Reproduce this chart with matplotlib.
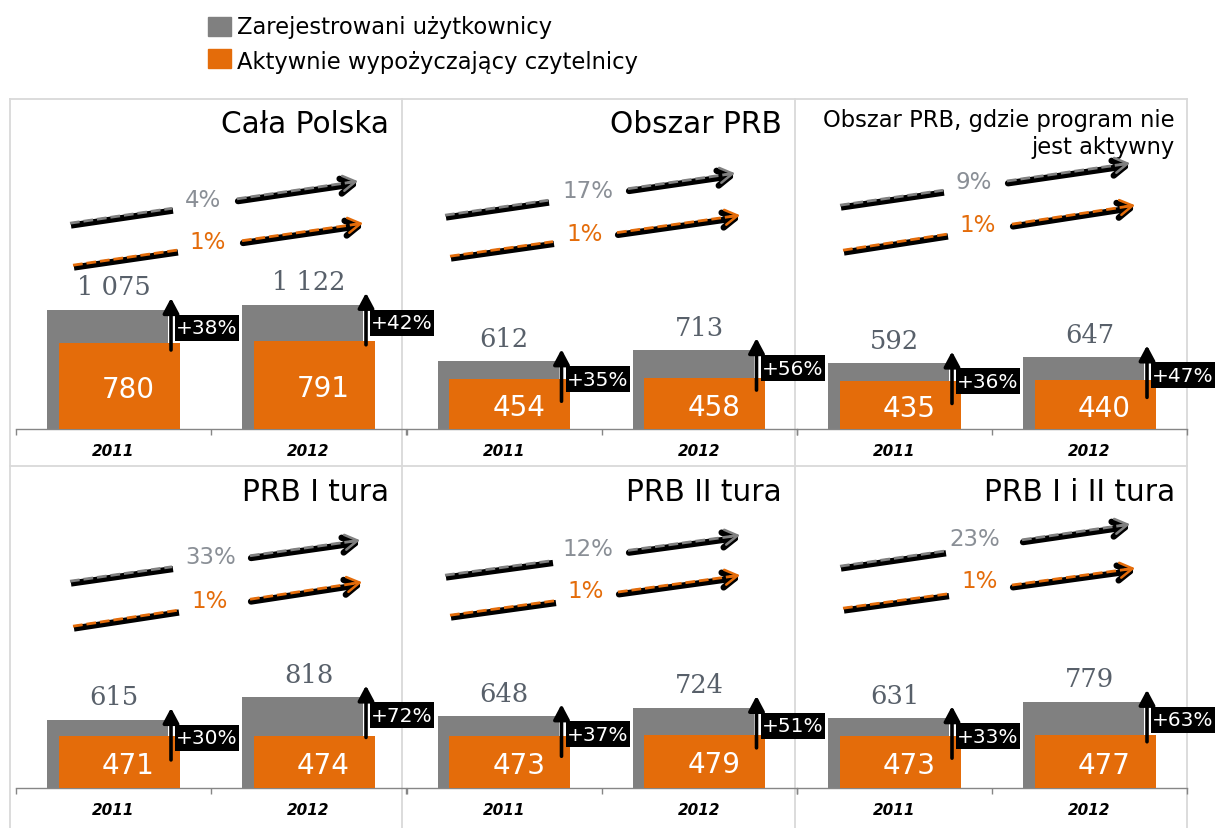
import numpy as np
import matplotlib
matplotlib.use("Agg")
import matplotlib.pyplot as plt
from matplotlib import transforms
from matplotlib.patches import Rectangle

plt.rcParams['font.family'] = ['DejaVu Sans']

# ---- data -------------------------------------------------------------
years = ['2011', '2012']
panel_titles = ['Cała Polska', 'Obszar PRB',
                ['Obszar PRB, gdzie program nie', 'jest aktywny'],
                'PRB I tura', 'PRB II tura', 'PRB I i II tura']
registered_2011 = [1075, 612, 592, 615, 648, 631]
registered_2012 = [1122, 713, 647, 818, 724, 779]
active_2011 = [780, 454, 435, 471, 473, 473]
active_2012 = [791, 458, 440, 474, 479, 477]
gap_2011 = ['+38%', '+35%', '+36%', '+30%', '+37%', '+33%']
gap_2012 = ['+42%', '+56%', '+47%', '+72%', '+51%', '+63%']
growth_registered = ['4%', '17%', '9%', '33%', '12%', '23%']
growth_active = ['1%', '1%', '1%', '1%', '1%', '1%']
legend_labels = ['Zarejestrowani użytkownicy', 'Aktywnie wypożyczający czytelnicy']

# ---- styling ------------------------------------------------------------
GRAY = '#808080'
ORANGE = '#E46C0A'
VALUE_GRAY = '#58606a'
PCT_GRAY = '#8a8f96'
BORDER = '#d9d9d9'
AXIS = '#868686'

W, H = 1215, 829
fig = plt.figure(figsize=(W / 100, H / 100), dpi=100)
fig.patch.set_facecolor('white')

# overlay in pixel coordinates for frames, titles, legend and trend arrows
ov = fig.add_axes([0, 0, 1, 1])
ov.set_xlim(0, W)
ov.set_ylim(H, 0)
ov.axis('off')
ov.set_zorder(0)

# panel frames
for yy in (100, 467):
    ov.plot([10, 1187], [yy, yy], color=BORDER, lw=1.3)
for xx in (10, 402, 795, 1187):
    ov.plot([xx, xx], [100, 829], color=BORDER, lw=1.3)

# legend
for i, (lab, col) in enumerate(zip(legend_labels, [GRAY, ORANGE])):
    y0 = [18, 50][i]
    ov.add_patch(Rectangle((208, y0), 23, 19, color=col))
    ov.text(237, [33.5, 68.5][i], lab, ha='left', va='baseline', fontsize=16.3, color='black')

# ---- panels -------------------------------------------------------------
YMAX = 2900
row_base = [430, 789]
col_left = [16, 406.5, 797]
AX_W = 390
AX_H = YMAX * 0.1107

x = np.arange(len(years))
bar_w = 0.623
shift = 0.0295


def pix(ax, dx, dy):
    return transforms.offset_copy(ax.transData, fig=fig, x=dx, y=dy, units='dots')


for p in range(6):
    r, c = divmod(p, 3)
    base = row_base[r]
    ax = fig.add_axes([col_left[c] / W, 1 - base / H, AX_W / W, AX_H / H])
    ax.set_zorder(1)
    ax.patch.set_visible(False)
    ax.set_xlim(-0.5, 1.5)
    ax.set_ylim(0, YMAX)

    reg = [registered_2011[p], registered_2012[p]]
    act = [active_2011[p], active_2012[p]]
    gaps = [gap_2011[p], gap_2012[p]]

    ax.bar(x - shift, reg, width=bar_w, color=GRAY, zorder=2)
    ax.bar(x + shift, act, width=bar_w, color=ORANGE, zorder=3)

    for i in range(len(years)):
        ax.annotate(f"{reg[i]:,}".replace(',', ' '), xy=(x[i], reg[i]),
                    xytext=(0, 15.5), textcoords='offset pixels',
                    ha='center', va='baseline', fontsize=18.5,
                    family='DejaVu Serif', color=VALUE_GRAY, zorder=5)
        ax.annotate(str(act[i]), xy=(x[i], act[i] / 2),
                    xytext=(15, -11), textcoords='offset pixels',
                    ha='center', va='baseline', fontsize=20,
                    color='white', zorder=5)
        # arrow showing the gap between registered and active users
        ax.annotate('', xy=(x[i], reg[i]), xycoords=pix(ax, 57.5, 12),
                    xytext=(0, -52), textcoords='offset pixels',
                    arrowprops=dict(arrowstyle='-|>,head_width=0.24,head_length=0.45',
                                    mutation_scale=20, lw=2.6, color='black',
                                    shrinkA=0, shrinkB=0), zorder=6)
        # black tag with the ratio of registered to active users
        tag = transforms.Affine2D().translate(61.5, -31) + \
            transforms.ScaledTranslation(x[i], reg[i], ax.transData)
        ax.add_patch(Rectangle((0, 0), 64, 26, transform=tag, facecolor='black',
                               edgecolor='none', clip_on=False, zorder=7))
        ax.annotate(gaps[i], xy=(x[i], reg[i]), xycoords=pix(ax, 93.5, -18),
                    ha='center', va='center', fontsize=14.5, color='white',
                    zorder=8, annotation_clip=False)

    for s in ('top', 'left', 'right'):
        ax.spines[s].set_visible(False)
    ax.spines['bottom'].set_color(AXIS)
    ax.spines['bottom'].set_linewidth(1)
    ax.yaxis.set_visible(False)
    ax.set_xticks(x, years)
    ax.set_xticks([-0.5, 0.5, 1.5], minor=True)
    ax.tick_params(axis='x', which='major', length=0, pad=10)
    ax.tick_params(axis='x', which='minor', length=4, width=1, color=AXIS)
    for t in ax.get_xticklabels():
        t.set_fontweight('bold')
        t.set_fontstyle('italic')
        t.set_fontsize(11)

# ---- titles ---------------------------------------------------------------
title_right = [389, 782, 1175, 389, 782, 1175]
title_base = [133, 133, None, 501, 501, 501]
for p, t in enumerate(panel_titles):
    if isinstance(t, list):
        ov.text(title_right[p], 126.5, t[0], ha='right', va='baseline', fontsize=16.3)
        ov.text(title_right[p], 153.5, t[1], ha='right', va='baseline', fontsize=16.3)
    else:
        ov.text(title_right[p], title_base[p], t, ha='right', va='baseline', fontsize=21.3)

# ---- trend arrows -------------------------------------------------------
# (x0, y0, x1, y1, gap start, gap end, label x, label y) in pixels
gray_trend = [(70, 225, 358, 183, 172, 237, 203, 200),
              (445, 217, 735, 175, 548, 628, 588, 191),
              (840, 207, 1130, 165, 943, 1007, 974, 182),
              (70, 583, 360, 542, 172, 250, 211, 557),
              (445, 577, 740, 537, 552, 628, 588, 549),
              (840, 568, 1130, 526, 945, 1022, 975, 540)]
orange_trend = [(73, 267, 363, 225, 177, 242, 208, 242),
                (450, 258, 740, 217, 553, 617, 585, 234),
                (843, 252, 1135, 207, 947, 1012, 978, 225),
                (73, 628, 362, 584, 178, 250, 210, 601),
                (450, 617, 740, 577, 555, 618, 586, 592),
                (843, 610, 1135, 570, 948, 1012, 980, 582)]

HEAD = '->,head_length=0.5,head_width=0.3'


def trend(geom, col, label, lab_col):
    x0, y0, x1, y1, g0, g1, lx, ly = geom
    k = (y1 - y0) / (x1 - x0)
    yg0 = y0 + k * (g0 - x0)
    yg1 = y0 + k * (g1 - x0)
    # dark body of both segments
    ov.plot([x0 + 1, g0 + 1], [y0 + 1.5, yg0 + 1.5], color='black', lw=4.5,
            solid_capstyle='butt', zorder=2)
    ov.annotate('', xy=(x1 + 1, y1 + 1.5), xytext=(g1 + 1, yg1 + 1.5),
                arrowprops=dict(arrowstyle=HEAD, mutation_scale=18, lw=4.5,
                                color='black', shrinkA=0, shrinkB=0), zorder=2)
    # coloured dashes on top
    ov.plot([x0, g0], [y0 - 0.8, yg0 - 0.8], color=col, lw=2.0,
            dashes=(3.5, 1.4), solid_capstyle='butt', zorder=3)
    ov.plot([g1, x1 - 5], [yg1 - 0.8, y1 - 0.8 - k * 5], color=col, lw=2.0,
            dashes=(3.5, 1.4), zorder=3)
    ov.annotate('', xy=(x1, y1 - 0.8), xytext=(x1 - 10, y1 - 0.8 - k * 10),
                arrowprops=dict(arrowstyle=HEAD, mutation_scale=18, lw=1.8,
                                color=col, shrinkA=0, shrinkB=0), zorder=4)
    ov.text(lx, ly, label, ha='center', va='center', fontsize=16.5, color=lab_col,
            zorder=4)


for p in range(6):
    trend(gray_trend[p], GRAY, growth_registered[p], PCT_GRAY)
    trend(orange_trend[p], ORANGE, growth_active[p], ORANGE)

fig.savefig('out.png', dpi=100)
